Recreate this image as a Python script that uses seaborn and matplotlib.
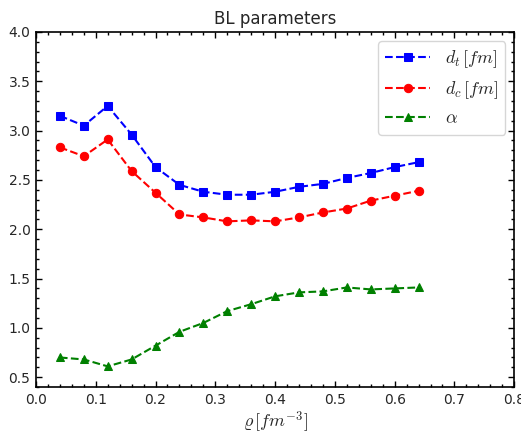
import numpy as np
import pandas as pd
import matplotlib
matplotlib.use("Agg")
import matplotlib.pyplot as plt
import seaborn as sns
from matplotlib.ticker import MultipleLocator

rho = [0.04, 0.08, 0.12, 0.16, 0.20, 0.24, 0.28, 0.32, 0.36, 0.40, 0.44, 0.48, 0.52, 0.56, 0.60, 0.64]
d_t = [3.15, 3.05, 3.25, 2.96, 2.63, 2.45, 2.38, 2.35, 2.35, 2.38, 2.43, 2.46, 2.52, 2.57, 2.63, 2.68]
d_c = [2.83, 2.74, 2.91, 2.59, 2.37, 2.15, 2.12, 2.08, 2.09, 2.08, 2.12, 2.17, 2.21, 2.29, 2.34, 2.39]
alpha = [0.70, 0.68, 0.61, 0.68, 0.82, 0.96, 1.05, 1.17, 1.24, 1.32, 1.36, 1.37, 1.41, 1.39, 1.40, 1.41]

labels = [r"$d_t\,[fm]$", r"$d_c\,[fm]$", r"$\alpha$"]
colors = ["blue", "red", "green"]
markers = ["s", "o", "^"]

sns.set_style("white")
plt.rcParams["mathtext.fontset"] = "cm"
plt.rcParams["font.family"] = ["DejaVu Sans"]

fig = plt.figure(figsize=(5.21, 4.32), dpi=100)
ax = fig.add_axes([0.069, 0.104, 0.918, 0.822])

for y, lab, c, m in zip([d_t, d_c, alpha], labels, colors, markers):
    df = pd.DataFrame({"rho": rho, "val": y})
    sns.lineplot(data=df, x="rho", y="val", ax=ax, color=c, marker=m,
                 linestyle="--", markersize=6, markeredgecolor=c,
                 linewidth=1.5, label=lab)

ax.set_xlim(0.0, 0.8)
ax.set_ylim(0.4, 4.0)
ax.xaxis.set_major_locator(MultipleLocator(0.1))
ax.xaxis.set_minor_locator(MultipleLocator(0.02))
ax.yaxis.set_major_locator(MultipleLocator(0.5))
ax.yaxis.set_minor_locator(MultipleLocator(0.1))
ax.tick_params(which="both", direction="in", top=True, right=True, bottom=True, left=True, color="black")
ax.tick_params(which="major", length=4.5, width=1, labelsize=10, pad=4)
ax.tick_params(which="minor", length=2.5, width=1)
for s in ax.spines.values():
    s.set_color("black")
    s.set_linewidth(1.2)

ax.set_title("BL parameters", fontsize=12)
ax.set_xlabel(r"$\varrho\,[fm^{-3}]$", fontsize=13, labelpad=2)
ax.set_ylabel("")
leg = ax.legend(loc="upper right", fontsize=13, frameon=True, fancybox=True,
                handlelength=2.5)
leg.get_frame().set_edgecolor("#cccccc")

fig.savefig("out.png", dpi=100)
